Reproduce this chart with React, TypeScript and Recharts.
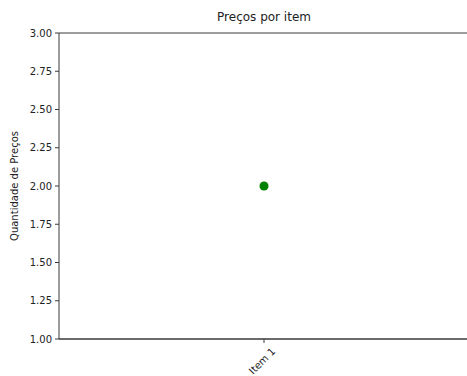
import { ScatterChart, Scatter, XAxis, YAxis } from 'recharts'

const items = ['Item 1']
const prices = [2]
const yTicks = [1, 1.25, 1.5, 1.75, 2, 2.25, 2.5, 2.75, 3]

const data = items.map((name, i) => ({ name, price: prices[i] }))

const font = '"DejaVu Sans", sans-serif'
const axisColor = '#3a3a3a'

function ItemTick(props: any) {
  const { x, y, payload } = props
  return (
    <g transform={`translate(${x - 2},${y + 16})`}>
      <text
        transform="rotate(-45)"
        textAnchor="middle"
        dominantBaseline="central"
        fontSize={10}
        fontFamily={font}
        fill="#222"
      >
        {payload.value}
      </text>
    </g>
  )
}

export default function App() {
  return (
    <div style={{ position: 'fixed', left: 0, top: 0, width: 467, height: 376, overflow: 'hidden', background: '#fff' }}>
      <ScatterChart width={472} height={376} margin={{ top: 0, right: 3, bottom: 0, left: 0 }}>
        <XAxis
          xAxisId="top"
          orientation="top"
          dataKey="name"
          type="category"
          height={33}
          tick={false}
          tickLine={false}
          axisLine={{ stroke: axisColor }}
          label={{
            value: 'Preços por item',
            position: 'center',
            dy: 0,
            fontSize: 12,
            fontFamily: font,
            fill: '#222',
          }}
        />
        <XAxis
          dataKey="name"
          type="category"
          height={37}
          tick={<ItemTick />}
          tickSize={4}
          tickLine={{ stroke: axisColor }}
          axisLine={{ stroke: axisColor, strokeWidth: 1.5 }}
        />
        <YAxis
          dataKey="price"
          type="number"
          domain={[1, 3]}
          ticks={yTicks}
          width={59}
          tickSize={4}
          tickMargin={3}
          tickFormatter={(v: number) => v.toFixed(2)}
          tick={{ fontSize: 10, fontFamily: font, fill: '#222' }}
          tickLine={{ stroke: axisColor }}
          axisLine={{ stroke: axisColor }}
          label={{
            value: 'Quantidade de Preços',
            angle: -90,
            position: 'center',
            dx: -15,
            fontSize: 10,
            fontFamily: font,
            fill: '#222',
          }}
        />
        <Scatter data={data} fill="#008000" shape="circle" isAnimationActive={false} />
      </ScatterChart>
    </div>
  )
}
